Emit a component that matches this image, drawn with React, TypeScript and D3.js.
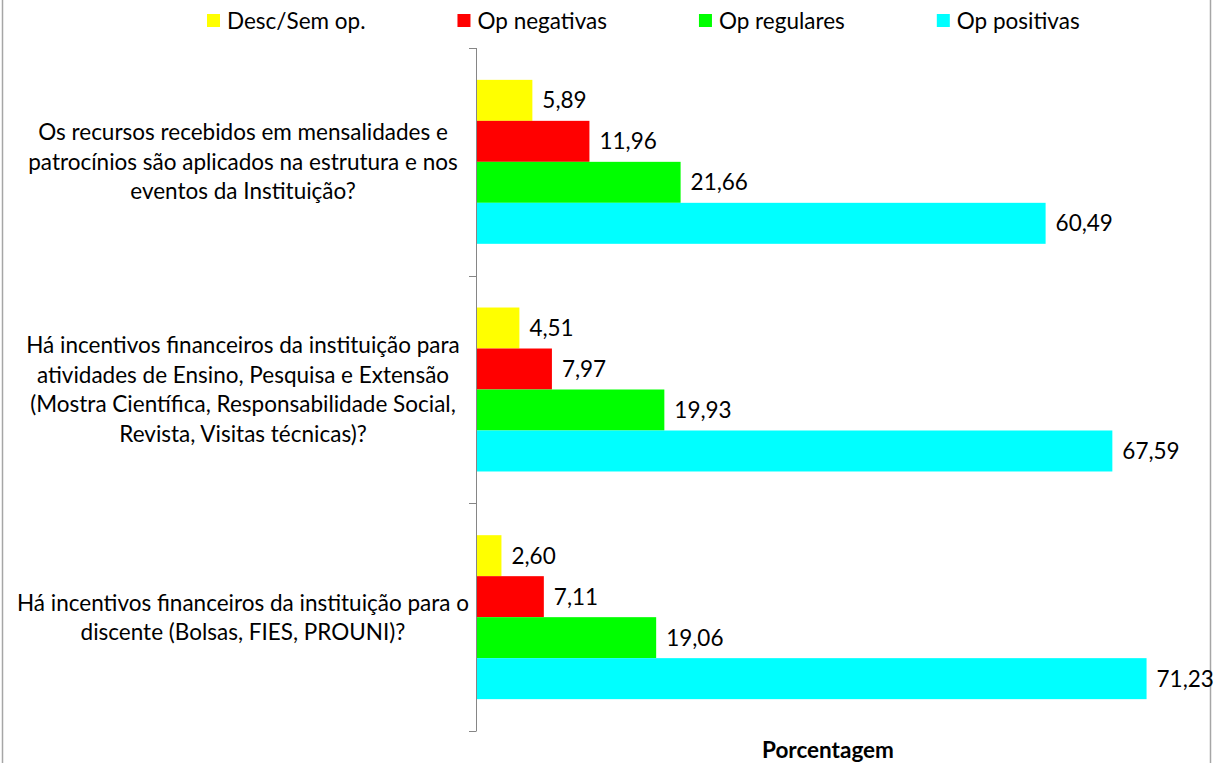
import { useEffect, useRef } from "react";
import * as d3 from "d3";

const categories = [
  ["Os recursos recebidos em mensalidades e", "patrocínios são aplicados na estrutura e nos", "eventos da Instituição?"],
  [
    "Há incentivos financeiros da instituição para",
    "atividades de Ensino, Pesquisa e Extensão",
    "(Mostra Científica, Responsabilidade Social,",
    "Revista, Visitas técnicas)?",
  ],
  ["Há incentivos financeiros da instituição para o", "discente (Bolsas, FIES, PROUNI)?"],
];
const series = ["Desc/Sem op.", "Op negativas", "Op regulares", "Op positivas"];
const colors = ["#ffff00", "#ff0000", "#00ff00", "#00ffff"];
const descSemOp = [5.89, 4.51, 2.6];
const opNegativas = [11.96, 7.97, 7.11];
const opRegulares = [21.66, 19.93, 19.06];
const opPositivas = [60.49, 67.59, 71.23];
const values = [descSemOp, opNegativas, opRegulares, opPositivas];

export default function App() {
  const ref = useRef<SVGSVGElement>(null);

  useEffect(() => {
    const svg = d3.select(ref.current);
    svg.selectAll("*").remove();
    const font = "Lato, 'Open Sans', sans-serif";
    const fs = 22.5;
    const fmt = d3.formatLocale({ decimal: ",", thousands: ".", grouping: [3], currency: ["", ""] }).format(".2f");

    const y = d3.scaleBand<number>().domain(d3.range(categories.length)).range([48, 731]);
    const y1 = d3.scaleBand<number>().domain(d3.range(series.length)).range([0, y.bandwidth()]).paddingOuter(0.777);
    const x = d3.scaleLinear().domain([0, 80]).range([477, 1229]);

    // chart border (left/right visible)
    svg.append("line").attr("x1", 2.5).attr("x2", 2.5).attr("y1", 0).attr("y2", 763).attr("stroke", "#a6a6a6").attr("stroke-width", 1.5);
    svg.append("line").attr("x1", 1210.5).attr("x2", 1210.5).attr("y1", 0).attr("y2", 763).attr("stroke", "#a6a6a6").attr("stroke-width", 1.5);

    // bars
    const groups = svg
      .selectAll("g.cat")
      .data(categories)
      .enter()
      .append("g")
      .attr("class", "cat")
      .attr("transform", (_, i) => `translate(0,${y(i)})`);

    groups.each(function (_, ci) {
      const g = d3.select(this);
      series.forEach((_, si) => {
        const v = values[si][ci];
        g.append("rect")
          .attr("x", x(0))
          .attr("y", y1(si)!)
          .attr("width", x(v) - x(0))
          .attr("height", y1.bandwidth())
          .attr("fill", colors[si]);
        g.append("text")
          .attr("x", x(v) + 10)
          .attr("y", y1(si)! + y1.bandwidth() / 2)
          .attr("dy", "0.36em")
          .attr("font-family", font)
          .attr("font-size", fs)
          .attr("fill", "#000")
          .text(fmt(v));
      });
    });

    // category axis
    const axisColor = "#868686";
    svg.append("line").attr("x1", 476.5).attr("x2", 476.5).attr("y1", 48).attr("y2", 731).attr("stroke", axisColor);
    const tickYs = [y(0)!, ...y.domain().map((i) => y(i)! + y.bandwidth())];
    svg
      .selectAll("line.tick")
      .data(tickYs)
      .enter()
      .append("line")
      .attr("x1", 469)
      .attr("x2", 476.5)
      .attr("y1", (d) => Math.round(d) + 0.5)
      .attr("y2", (d) => Math.round(d) + 0.5)
      .attr("stroke", axisColor);

    const lh = 29.5;
    categories.forEach((lines, ci) => {
      const cy = y(ci)! + y.bandwidth() / 2;
      const t = svg
        .append("text")
        .attr("font-family", font)
        .attr("font-size", fs)
        .attr("fill", "#000")
        .attr("text-anchor", "middle");
      lines.forEach((line, li) => {
        t.append("tspan")
          .attr("x", 243)
          .attr("y", cy + (li - (lines.length - 1) / 2) * lh)
          .attr("dy", "0.36em")
          .text(line);
      });
    });

    // axis title
    svg
      .append("text")
      .attr("x", 828)
      .attr("y", 758)
      .attr("text-anchor", "middle")
      .attr("font-family", font)
      .attr("font-size", fs)
      .attr("font-weight", "bold")
      .text("Porcentagem");

    // legend
    let lx = 207;
    series.forEach((s, i) => {
      svg.append("rect").attr("x", lx).attr("y", 14).attr("width", 13).attr("height", 13).attr("fill", colors[i]);
      const t = svg
        .append("text")
        .attr("x", lx + 20)
        .attr("y", 20.5)
        .attr("dy", "0.36em")
        .attr("font-family", font)
        .attr("font-size", fs)
        .text(s);
      const w = (t.node() as SVGTextElement).getComputedTextLength();
      lx = lx + 20 + w + 92;
    });
  }, []);

  return (
    <svg
      ref={ref}
      width={1216}
      height={763}
      style={{ position: "absolute", left: 0, top: 0, background: "#fff" }}
    />
  );
}
